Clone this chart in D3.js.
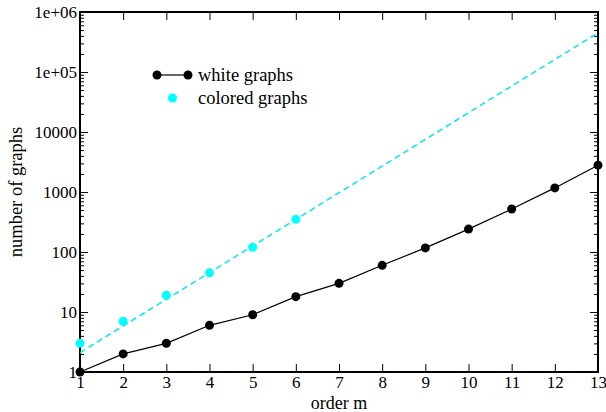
<!DOCTYPE html>
<html>
<head>
<meta charset="utf-8">
<script src="https://cdn.jsdelivr.net/npm/d3@7"></script>
<style>
	body { margin: 0; background: #fff; }
	svg { display: block; font-family: 'Liberation Serif', 'Times New Roman', serif; }
</style>
</head>
<body>
<div id="chart"></div>
<script>
// data
let orders = [1, 2, 3, 4, 5, 6, 7, 8, 9, 10, 11, 12, 13]
let whiteGraphs = [1, 2, 3, 6, 9, 18, 30, 60, 117, 241, 520, 1170, 2800]
let coloredOrders = [1, 2, 3, 4, 5, 6]
let coloredGraphs = [3, 7, 19, 45, 120, 350]
// dashed fit through the colored graphs (straight in log space)
let fitOrders = [1, 13]
let fitValues = [2.1, 4.5e5]
let yTickValues = [1, 10, 100, 1000, 10000, 1e5, 1e6]
let yTickLabels = ['1', '10', '100', '1000', '10000', '1e+05', '1e+06']

let width = 606
let height = 412
let margin = { top: 12, right: 8, bottom: 40, left: 80 }
let plotW = width - margin.left - margin.right
let plotH = height - margin.top - margin.bottom
let font = "'Liberation Serif', 'Times New Roman', serif"

let svg = d3
	.select('#chart')
	.append('svg')
	.attr('width', width)
	.attr('height', height)

let g = svg.append('g').attr('transform', `translate(${margin.left},${margin.top})`)

let x = d3.scaleLinear().domain([1, 13]).range([0, plotW])
let y = d3.scaleLog().domain([1, 1e6]).range([plotH, 0])

// minor ticks 2..9 for each decade
let minorTicks = []
for (let d = 1; d < 1e6; d *= 10) {
	for (let k = 2; k < 10; k++) minorTicks.push(d * k)
}

let styleAxis = sel => {
	sel.attr('font-family', font).attr('font-size', 17)
	sel.select('.domain').remove()
	sel.selectAll('line').attr('stroke', '#000').attr('stroke-width', 1)
	sel.selectAll('text').attr('fill', '#000')
}

// bottom axis with labels
g.append('g')
	.attr('transform', `translate(0,${plotH})`)
	.call(d3.axisBottom(x).tickValues(orders).tickFormat(d3.format('d')).tickSizeInner(-8).tickSizeOuter(0).tickPadding(4))
	.call(styleAxis)

// top axis ticks only
g.append('g')
	.call(d3.axisTop(x).tickValues(orders).tickFormat('').tickSizeInner(-8).tickSizeOuter(0))
	.call(styleAxis)

// left axis
g.append('g')
	.call(d3.axisLeft(y).tickValues(yTickValues).tickFormat((d, i) => yTickLabels[i]).tickSizeInner(-8).tickSizeOuter(0).tickPadding(3))
	.call(styleAxis)
g.append('g')
	.call(d3.axisLeft(y).tickValues(minorTicks).tickFormat('').tickSizeInner(-4).tickSizeOuter(0))
	.call(styleAxis)

// right axis
g.append('g')
	.attr('transform', `translate(${plotW},0)`)
	.call(d3.axisRight(y).tickValues(yTickValues).tickFormat('').tickSizeInner(-8).tickSizeOuter(0))
	.call(styleAxis)
g.append('g')
	.attr('transform', `translate(${plotW},0)`)
	.call(d3.axisRight(y).tickValues(minorTicks).tickFormat('').tickSizeInner(-4).tickSizeOuter(0))
	.call(styleAxis)

// frame
g.append('rect')
	.attr('width', plotW)
	.attr('height', plotH)
	.attr('fill', 'none')
	.attr('stroke', '#000')
	.attr('stroke-width', 2)

// fit line
let line = d3.line().x(d => x(d[0])).y(d => y(d[1]))
g.append('path')
	.datum(fitOrders.map((m, i) => [m, fitValues[i]]))
	.attr('d', line)
	.attr('fill', 'none')
	.attr('stroke', '#00e8f0')
	.attr('stroke-width', 1.5)
	.attr('stroke-dasharray', '6,4')

g.selectAll('.colored')
	.data(coloredOrders.map((m, i) => [m, coloredGraphs[i]]))
	.join('circle')
	.attr('class', 'colored')
	.attr('cx', d => x(d[0]))
	.attr('cy', d => y(d[1]))
	.attr('r', 4.5)
	.attr('fill', '#00ffff')

// white graphs
let whiteData = orders.map((m, i) => [m, whiteGraphs[i]])
g.append('path')
	.datum(whiteData)
	.attr('d', line)
	.attr('fill', 'none')
	.attr('stroke', '#000')
	.attr('stroke-width', 1.2)

g.selectAll('.white')
	.data(whiteData)
	.join('circle')
	.attr('class', 'white')
	.attr('cx', d => x(d[0]))
	.attr('cy', d => y(d[1]))
	.attr('r', 4.5)
	.attr('fill', '#000')

// legend
let legend = svg.append('g').attr('transform', 'translate(157,75)')
legend.append('line').attr('x1', 0).attr('x2', 31).attr('y1', 0).attr('y2', 0).attr('stroke', '#000').attr('stroke-width', 1.2)
legend.selectAll('.lw').data([0, 31]).join('circle').attr('cx', d => d).attr('cy', 0).attr('r', 4.5).attr('fill', '#000')
legend.append('circle').attr('cx', 15.5).attr('cy', 23).attr('r', 4.5).attr('fill', '#00ffff')
legend.selectAll('text')
	.data(['white graphs', 'colored graphs'])
	.join('text')
	.attr('x', 41)
	.attr('y', (d, i) => i * 23 + 5.5)
	.attr('font-family', font)
	.attr('font-size', 18.5)
	.text(d => d)

// axis titles
svg.append('text')
	.attr('x', margin.left + plotW / 2)
	.attr('y', 409)
	.attr('text-anchor', 'middle')
	.attr('font-family', font)
	.attr('font-size', 18)
	.text('order m')

svg.append('text')
	.attr('transform', `translate(22,${margin.top + plotH / 2}) rotate(-90)`)
	.attr('text-anchor', 'middle')
	.attr('font-family', font)
	.attr('font-size', 18.5)
	.text('number of graphs')
</script>
</body>
</html>
